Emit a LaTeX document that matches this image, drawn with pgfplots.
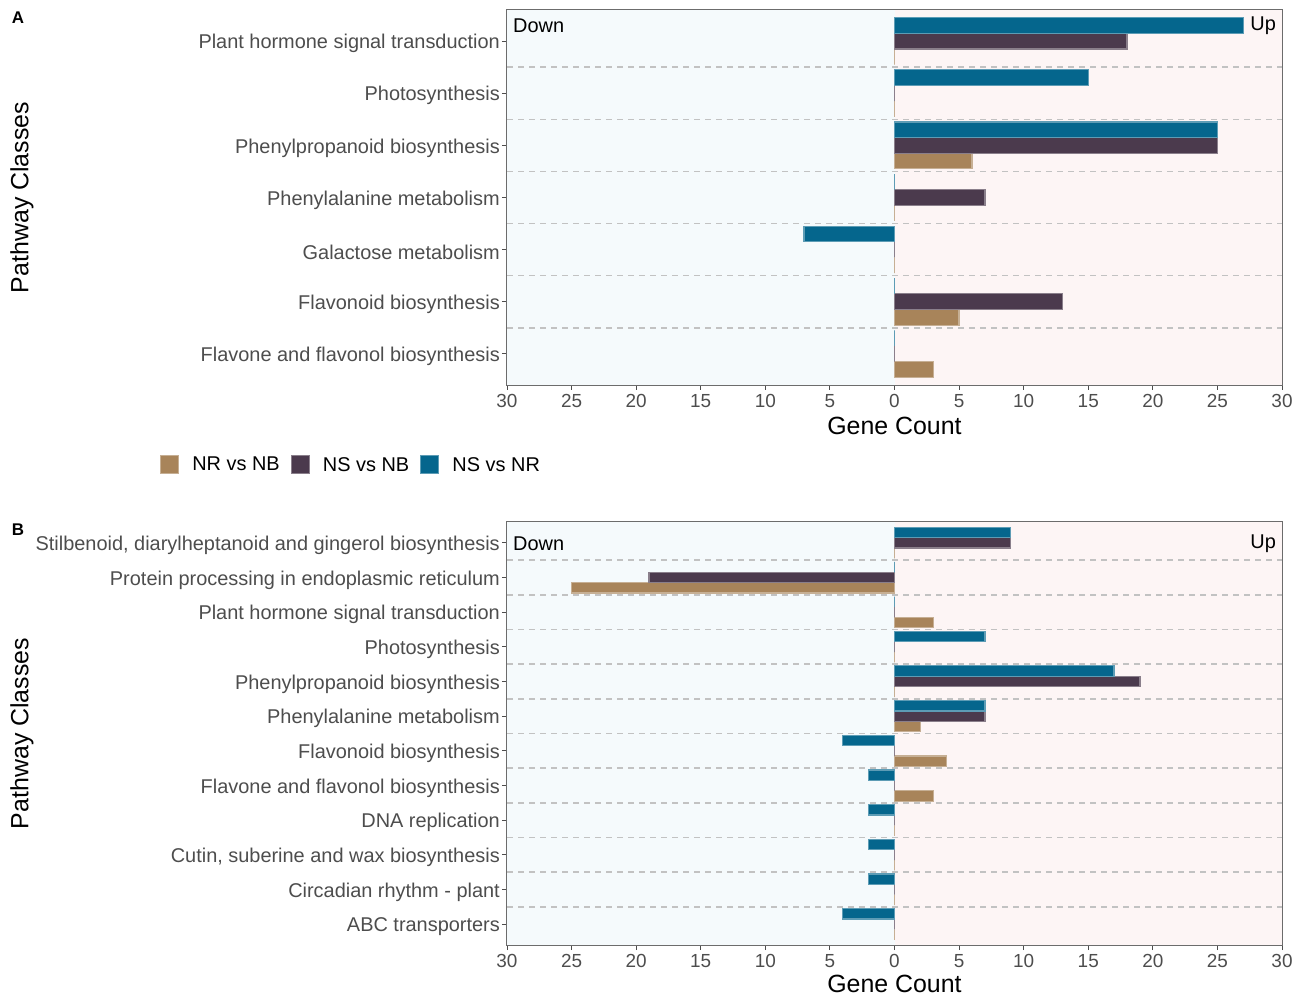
\documentclass[border=0pt]{standalone}
\usepackage{pgfplots}
\pgfplotsset{compat=1.18}
\usepackage{pgfplotstable}
\usepackage{fontspec}
\setmainfont{Liberation Sans}
\definecolor{cNR}{HTML}{A8845A}
\definecolor{cNSB}{HTML}{4B3A4D}
\definecolor{cNSR}{HTML}{05668D}
\definecolor{bgL}{HTML}{F5FAFC}
\definecolor{bgR}{HTML}{FDF5F5}
\definecolor{tickc}{HTML}{4D4D4D}
\definecolor{sepc}{HTML}{C2C2C2}

% panel A, categories from top (1) to bottom (7)
\pgfplotstableread{
y NRNB NSNB NSNR
1 0 18 27
2 0 0 15
3 6 25 25
4 0 7 0
5 0 0 -7
6 5 13 0
7 3 0 0
}\tabA

% panel B, categories from top (1) to bottom (12)
\pgfplotstableread{
y NRNB NSNB NSNR
1 0 9 9
2 -25 -19 0
3 3 0 0
4 0 0 7
5 0 19 17
6 2 7 7
7 4 0 -4
8 3 0 -2
9 0 0 -2
10 0 0 -2
11 0 0 -2
12 0 0 -4
}\tabB

\tikzset{
  sepline/.style={sepc, dash pattern=on 5.5bp off 5.5bp, line width=1.6bp},
  updown/.style={font=\fontsize{20}{24}\selectfont, inner sep=0pt},
}

\pgfplotsset{
  panel/.style={
    scale only axis, width=775bp,
    xmin=-30, xmax=30,
    xtick={-30,-25,...,30},
    xticklabel={\pgfmathparse{abs(\tick)}\pgfmathprintnumber{\pgfmathresult}},
    /pgf/number format/assume math mode=true,
    y dir=reverse,
    xtick pos=bottom, ytick pos=left,
    tick align=outside,
    major tick length=5bp,
    tick style={tickc, line width=1bp},
    axis line style={gray!85!black, line width=1.2bp},
    xticklabel style={font=\fontsize{19}{22}\selectfont, text=tickc, yshift=-1bp},
    yticklabel style={font=\fontsize{20}{24}\selectfont, text=tickc, inner sep=2bp, yshift=-2.5bp},
    xlabel={Gene Count},
    ylabel={Pathway Classes},
    label style={font=\fontsize{25}{30}\selectfont, inner sep=1bp},
    legend image code/.code={\fill[##1] (0bp,-9bp) rectangle (18bp,9bp);},
  },
  bNR/.style={xbar, bar width=0.3, bar shift=0.3, fill=cNR, draw=cNR!65!white, line width=1.2bp},
  bNSB/.style={xbar, bar width=0.3, bar shift=0, fill=cNSB, draw=cNSB!65!white, line width=1.2bp},
  bNSR/.style={xbar, bar width=0.3, bar shift=-0.3, fill=cNSR, draw=cNSR!65!white, line width=1.2bp},
}

\begin{document}
\begin{tikzpicture}
\useasboundingbox (0,0) rectangle (1309bp,997bp);

% ---------------- Panel A ----------------
\begin{axis}[panel,
  at={(507bp,612bp)}, anchor=south west,
  height=375bp,
  ymin=0.4, ymax=7.6,
  ytick={1,...,7},
  yticklabels={Plant hormone signal transduction, Photosynthesis, Phenylpropanoid biosynthesis, Phenylalanine metabolism, Galactose metabolism, Flavonoid biosynthesis, Flavone and flavonol biosynthesis},
  xlabel style={at={(axis description cs:0.5,-0.1093)}, anchor=center},
  ylabel style={at={(axis description cs:-0.6258,0.5)}, anchor=center},
  legend columns=3,
  legend style={at={(axis description cs:-0.1987,-0.213)}, anchor=center, draw=none, fill=none,
    font=\fontsize{20}{24}\selectfont,
    /tikz/every odd column/.append style={column sep=7bp},
    /tikz/every even column/.append style={column sep=5bp},
    nodes={inner sep=6bp}},
]
\fill[bgL] (axis cs:-30,0.4) rectangle (axis cs:0,7.6);
\fill[bgR] (axis cs:0,0.4) rectangle (axis cs:30,7.6);
\pgfplotsinvokeforeach{1.5,2.5,3.5,4.5,5.5,6.5}{
  \draw[sepline] (axis cs:-30,#1) -- (axis cs:30,#1);
}
\addplot[bNR] table[x=NRNB, y=y] {\tabA};
\addplot[bNSB] table[x=NSNB, y=y] {\tabA};
\addplot[bNSR] table[x=NSNR, y=y] {\tabA};
\legend{NR vs NB, NS vs NB, NS vs NR}
\node[anchor=west, updown] at (axis description cs:0.0077,0.957) {Down};
\node[anchor=east, updown] at (axis description cs:0.9923,0.957) {Up};
\end{axis}

% ---------------- Panel B ----------------
\begin{axis}[panel,
  at={(507bp,52bp)}, anchor=south west,
  height=423bp,
  ymin=0.4, ymax=12.6,
  ytick={1,...,12},
  yticklabels={{Stilbenoid, diarylheptanoid and gingerol biosynthesis}, Protein processing in endoplasmic reticulum, Plant hormone signal transduction, Photosynthesis, Phenylpropanoid biosynthesis, Phenylalanine metabolism, Flavonoid biosynthesis, Flavone and flavonol biosynthesis, DNA replication, {Cutin, suberine and wax biosynthesis}, Circadian rhythm - plant, ABC transporters},
  xlabel style={at={(axis description cs:0.5,-0.0925)}, anchor=center},
  ylabel style={at={(axis description cs:-0.6258,0.5)}, anchor=center},
]
\fill[bgL] (axis cs:-30,0.4) rectangle (axis cs:0,12.6);
\fill[bgR] (axis cs:0,0.4) rectangle (axis cs:30,12.6);
\pgfplotsinvokeforeach{1.5,2.5,3.5,4.5,5.5,6.5,7.5,8.5,9.5,10.5,11.5}{
  \draw[sepline] (axis cs:-30,#1) -- (axis cs:30,#1);
}
\addplot[bNR] table[x=NRNB, y=y] {\tabB};
\addplot[bNSB] table[x=NSNB, y=y] {\tabB};
\addplot[bNSR] table[x=NSNR, y=y] {\tabB};
\node[anchor=west, updown] at (axis description cs:0.0077,0.948) {Down};
\node[anchor=east, updown] at (axis description cs:0.9923,0.948) {Up};
\end{axis}

\node[font=\fontsize{17}{20}\selectfont\bfseries] at (18bp,979bp) {A};
\node[font=\fontsize{17}{20}\selectfont\bfseries] at (18bp,467bp) {B};
\end{tikzpicture}
\end{document}
